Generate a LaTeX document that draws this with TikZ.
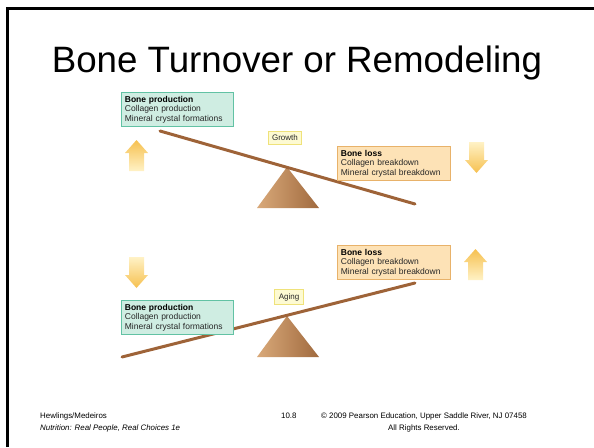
\documentclass[tikz,border=0pt]{standalone}
\usepackage{fontspec}
\setmainfont{Liberation Sans}
\usetikzlibrary{positioning}
\definecolor{mintfill}{HTML}{CFEDE2}
\definecolor{mintline}{HTML}{62C2A4}
\definecolor{peachfill}{HTML}{FDE2B6}
\definecolor{peachline}{HTML}{E8B26A}
\definecolor{lemonfill}{HTML}{FDFAD2}
\definecolor{lemonline}{HTML}{EFE27A}
\definecolor{beamcol}{HTML}{9E6338}
\definecolor{tanlight}{HTML}{D9A97A}
\definecolor{tandark}{HTML}{A06A3E}
\definecolor{arrowdark}{HTML}{F6C04F}
\definecolor{arrowpale}{HTML}{FFF2C6}
\newcommand{\arrowdown}{\shade[top color=arrowpale, bottom color=arrowdark] (4,0) -- (19,0) -- (19,18) -- (23,18) -- (11.5,31) -- (0,18) -- (4,18) -- cycle;}
\newcommand{\arrowup}{\shade[top color=arrowdark, bottom color=arrowpale] (11.5,0) -- (23,13) -- (19,13) -- (19,31) -- (4,31) -- (4,13) -- (0,13) -- cycle;}
\newcommand{\pivot}{\shade[left color=tanlight, right color=tandark] (0,0) -- (32,41) -- (-30,41) -- cycle;}
\tikzset{
  prodbox/.style={draw=mintline, fill=mintfill, line width=0.8pt, anchor=north west,
    text width=105pt, inner sep=3.5pt, align=left, text=black!85, font=\fontsize{8.5}{9.6}\selectfont},
  lossbox/.style={prodbox, draw=peachline, fill=peachfill, text width=106pt},
  tagbox/.style={draw=lemonline, fill=lemonfill, line width=0.8pt, inner xsep=4pt, inner ysep=3.5pt,
    text=black!85, font=\fontsize{8}{9}\selectfont},
  beam/.style={draw=beamcol, line width=3pt, line cap=round},
  foot/.style={anchor=base west, inner sep=0pt, font=\fontsize{7.9}{9}\selectfont}
}

\begin{document}
\begin{tikzpicture}[x=1pt, y=-1pt]
  \useasboundingbox (0,0) rectangle (594,447);
  \draw[line width=2.6pt] (7.5,447) -- (7.5,8.5) -- (594,8.5);

  \node[anchor=base, inner sep=0pt] (title) at (297,72) {\fontsize{36.7}{40}\selectfont Bone Turnover or Remodeling};

  % growth
  \coordinate (gleft) at (160,131);
  \coordinate (gright) at (415,204);
  \begin{scope}[xshift=287pt, yshift=-167pt]
    \pivot
  \end{scope}
  \draw[beam] (gleft) -- (gright);
  \node[prodbox] (gprod) at (121,92) {\textbf{\color{black}Bone production}\\Collagen production\\Mineral crystal formations};
  \node[lossbox] (gloss) at (337,146) {\textbf{\color{black}Bone loss}\\Collagen breakdown\\Mineral crystal breakdown};
  \node[tagbox] (growth) at (285,138) {Growth};
  \begin{scope}[xshift=125pt, yshift=-140pt]
    \arrowup
  \end{scope}
  \begin{scope}[xshift=465pt, yshift=-142pt]
    \arrowdown
  \end{scope}

  % aging
  \coordinate (aleft) at (122,357);
  \coordinate (aright) at (415,283);
  \begin{scope}[xshift=287pt, yshift=-316pt]
    \pivot
  \end{scope}
  \draw[beam] (aleft) -- (aright);
  \node[prodbox] (aprod) at (121,300) {\textbf{\color{black}Bone production}\\Collagen production\\Mineral crystal formations};
  \node[lossbox] (aloss) at (337,245) {\textbf{\color{black}Bone loss}\\Collagen breakdown\\Mineral crystal breakdown};
  \node[tagbox] (aging) at (289,297) {Aging};
  \begin{scope}[xshift=125pt, yshift=-257pt]
    \arrowdown
  \end{scope}
  \begin{scope}[xshift=464pt, yshift=-249pt]
    \arrowup
  \end{scope}

  % footer
  \node[foot] (authors) at (40,418) {Hewlings/Medeiros};
  \node[foot] (book) at (40,430) {\itshape Nutrition: Real People, Real Choices 1e};
  \node[foot] (slide) at (281,418) {10.8};
  \node[foot, anchor=base] (copy) at (424,418) {© 2009 Pearson Education, Upper Saddle River, NJ 07458};
  \node[foot, anchor=base] (rights) at (424,430) {All Rights Reserved.};
\end{tikzpicture}
\end{document}
